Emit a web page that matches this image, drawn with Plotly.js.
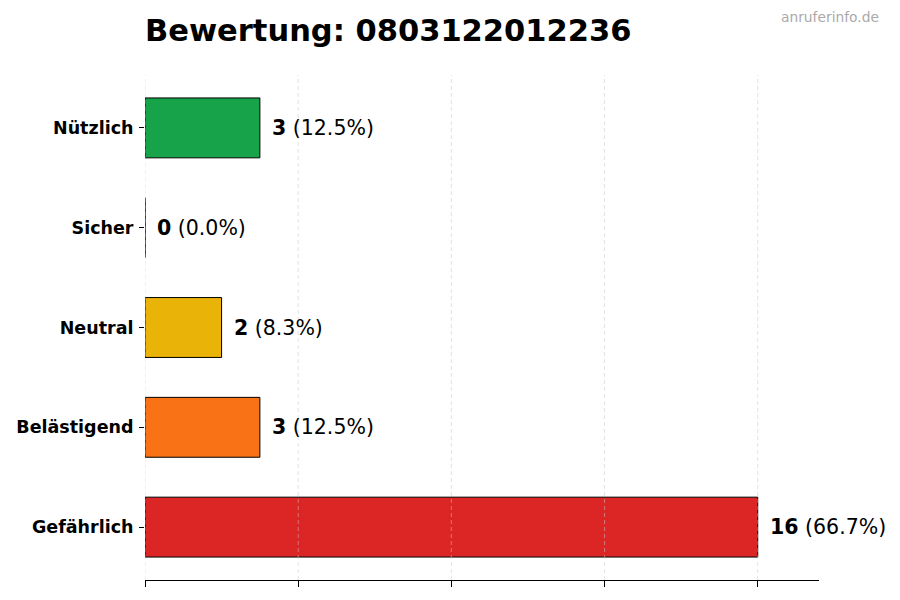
<!DOCTYPE html>
<html>
<head>
<meta charset="utf-8">
<script src="https://cdn.plot.ly/plotly-3.0.1.min.js"></script>
<style>
  html, body { margin: 0; padding: 0; background: #fff; }
  #chart { width: 900px; height: 600px; }
</style>
</head>
<body>
<div id="chart"></div>
<script>
// Bewertungen, von oben nach unten
const categories = ['Nützlich', 'Sicher', 'Neutral', 'Belästigend', 'Gefährlich'];
const counts = [3, 0, 2, 3, 16];
const percents = ['12.5%', '0.0%', '8.3%', '12.5%', '66.7%'];
const barColors = ['#16a34a', '#3b82f6', '#eab308', '#f97316', '#dc2626'];
const gridTicks = [0, 4, 8, 12, 16];

const FONT = 'DejaVu Sans, sans-serif';

const trace = {
    type: 'bar',
    orientation: 'h',
    x: counts,
    y: categories,
    width: 0.6,
    marker: { color: barColors, line: { color: '#000', width: 1 } },
    hoverinfo: 'skip'
};

const labels = categories.map((c, i) => ({
    x: counts[i], y: c, xref: 'x', yref: 'y',
    text: `<b>${counts[i]}</b> (${percents[i]})`,
    xanchor: 'left', yanchor: 'middle', xshift: 10,
    showarrow: false,
    font: { family: FONT, size: 20.5, color: '#000' }
}));

labels.push({
    x: 1, y: 1, xref: 'paper', yref: 'paper',
    text: 'anruferinfo.de',
    xanchor: 'right', yanchor: 'bottom',
    xshift: 62, yshift: 48,
    showarrow: false,
    font: { family: FONT, size: 13.8, color: '#aaaaaa' }
});

// Gitterlinien über den Balken, wie im Original
const gridShapes = gridTicks.map(t => ({
    type: 'line', xref: 'x', yref: 'paper',
    x0: t, x1: t, y0: 0, y1: 1,
    layer: 'above',
    line: { color: 'rgba(200,200,200,0.5)', width: 1, dash: '4px,3px' }
}));

const layout = {
    width: 900, height: 600,
    margin: { l: 145, r: 81, t: 75, b: 20 },
    paper_bgcolor: '#fff', plot_bgcolor: '#fff',
    showlegend: false,
    title: {
        text: '<b>Bewertung: 0803122012236</b>',
        x: 0, xref: 'paper', xanchor: 'left',
        y: 0.95, yanchor: 'middle',
        font: { family: FONT, size: 30.5, color: '#000' }
    },
    xaxis: {
        range: [0, 17.6],
        tickvals: gridTicks,
        showticklabels: false,
        ticks: 'outside', ticklen: 6, tickcolor: '#000',
        showgrid: false, zeroline: false,
        showline: true, linecolor: '#000', linewidth: 1,
        fixedrange: true
    },
    yaxis: {
        type: 'category',
        categoryarray: categories,
        range: [4.53, -0.53],
        ticks: 'outside', ticklen: 5, tickcolor: '#000',
        ticklabelstandoff: 2,
        showline: false, showgrid: false, zeroline: false,
        tickfont: { family: FONT, size: 17.5, color: '#000', weight: 'bold' },
        fixedrange: true
    },
    shapes: gridShapes,
    annotations: labels
};

Plotly.newPlot('chart', [trace], layout, { staticPlot: true });
</script>
</body>
</html>
